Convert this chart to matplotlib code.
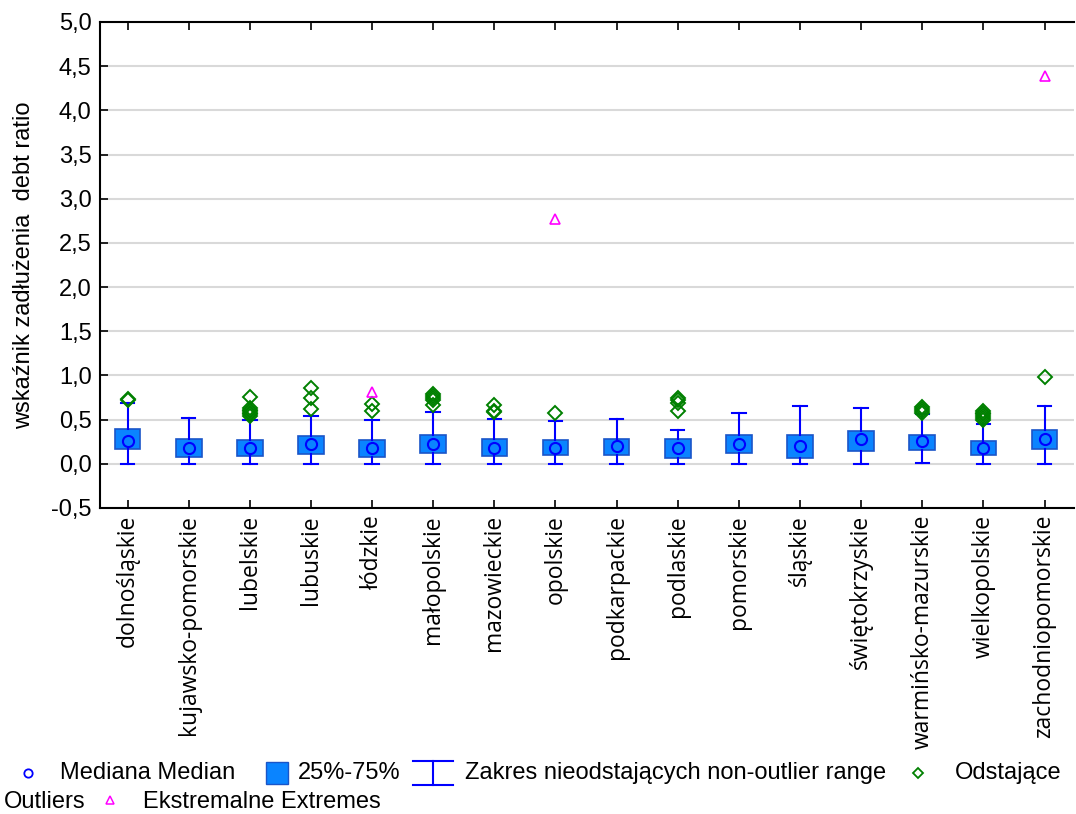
import matplotlib
matplotlib.use('Agg')
import matplotlib.pyplot as plt
from matplotlib.lines import Line2D
from matplotlib.patches import Rectangle

regions = ['dolnośląskie', 'kujawsko-pomorskie', 'lubelskie', 'lubuskie', 'łódzkie',
           'małopolskie', 'mazowieckie', 'opolskie', 'podkarpackie', 'podlaskie',
           'pomorskie', 'śląskie', 'świętokrzyskie', 'warmińsko-mazurskie',
           'wielkopolskie', 'zachodniopomorskie']

medians = [0.26, 0.18, 0.18, 0.22, 0.18, 0.22, 0.18, 0.18, 0.20, 0.18,
           0.22, 0.20, 0.28, 0.26, 0.18, 0.28]
q1 = [0.17, 0.08, 0.09, 0.11, 0.08, 0.12, 0.09, 0.10, 0.10, 0.06,
      0.12, 0.07, 0.14, 0.16, 0.10, 0.17]
q3 = [0.39, 0.28, 0.27, 0.31, 0.27, 0.33, 0.28, 0.27, 0.28, 0.28,
      0.32, 0.32, 0.37, 0.33, 0.26, 0.38]
whis_lo = [0.0, 0.0, 0.0, 0.0, 0.0, 0.0, 0.0, 0.0, 0.0, 0.0,
           0.0, 0.0, 0.0, 0.01, 0.0, 0.0]
whis_hi = [0.69, 0.52, 0.49, 0.545, 0.49, 0.59, 0.51, 0.48, 0.51, 0.38,
           0.57, 0.65, 0.63, 0.56, 0.45, 0.65]

outliers = [
    [0.72, 0.73],
    [],
    [0.76, 0.63, 0.61, 0.60, 0.58, 0.56, 0.54],
    [0.86, 0.74, 0.62],
    [0.68, 0.60],
    [0.79, 0.77, 0.74, 0.72, 0.66],
    [0.67, 0.60, 0.59],
    [0.57],
    [],
    [0.74, 0.72, 0.69, 0.60],
    [],
    [],
    [],
    [0.64, 0.62, 0.60, 0.58],
    [0.60, 0.58, 0.56, 0.54, 0.52, 0.50],
    [0.98],
]
extremes = [[], [], [], [], [0.81], [], [], [2.77], [], [], [], [], [], [], [], [4.39]]

legend_labels = ['Mediana Median', '25%-75%', 'Zakres nieodstających non-outlier range',
                 'Odstające', 'Outliers', 'Ekstremalne Extremes']

BOX_FACE = '#0a84ff'
BOX_EDGE = '#1a55c8'
BLUE = '#0000ff'
GREEN = '#008000'
MAGENTA = '#ff00ff'

W, H = 1076, 814
fig = plt.figure(figsize=(W / 100, H / 100), dpi=100)
ax = fig.add_axes([0.093, 0.376, 0.905, 0.597])

stats = []
for i in range(len(regions)):
    stats.append(dict(med=medians[i], q1=q1[i], q3=q3[i],
                      whislo=whis_lo[i], whishi=whis_hi[i], fliers=[]))

pos = list(range(1, len(regions) + 1))
ax.bxp(stats, positions=pos, widths=0.42, patch_artist=True, showfliers=False,
       boxprops=dict(facecolor=BOX_FACE, edgecolor=BOX_EDGE, linewidth=1.2),
       whiskerprops=dict(color=BLUE, linewidth=1.5),
       capprops=dict(color=BLUE, linewidth=1.5),
       medianprops=dict(linewidth=0), capwidths=0.22, zorder=3)

ax.plot(pos, medians, 'o', ls='none', mfc='none', mec=BLUE, mew=1.5, ms=8, zorder=4)

for i, vals in enumerate(outliers):
    ax.plot([pos[i]] * len(vals), vals, 'D', ls='none', mfc='none', mec=GREEN,
            mew=1.4, ms=7.5, zorder=4)
for i, vals in enumerate(extremes):
    ax.plot([pos[i]] * len(vals), vals, '^', ls='none', mfc='none', mec=MAGENTA,
            mew=1.2, ms=7.5, zorder=4)

ax.set_xlim(0.55, 16.48)
ax.set_ylim(-0.5, 5.0)
yt = [-0.5 + 0.5 * k for k in range(12)]
ax.set_yticks(yt)
ax.set_yticklabels([f'{v:.1f}'.replace('.', ',') for v in yt],
                   fontsize=17, family='Liberation Sans')
ax.set_xticks(pos)
ax.set_xticklabels(regions, rotation=90, fontsize=16.5, family='Open Sans')
ax.tick_params(axis='both', direction='in', length=6, width=1.2, top=True)
ax.tick_params(axis='y', pad=6)
ax.tick_params(axis='x', pad=5)
ax.grid(axis='y', color='#d9d9d9', linewidth=1.5, zorder=0)
ax.set_axisbelow(True)
ax.spines['right'].set_visible(False)
for s in ['left', 'bottom', 'top']:
    ax.spines[s].set_linewidth(1.5)
ax.set_ylabel('wskaźnik zadłużenia  debt ratio', fontsize=17, family='Liberation Sans',
              labelpad=12)


# legend drawn in pixel positions (figure space)
def fx(px):
    return px / W


def fy(py):
    return 1 - py / H


lfont = dict(family='Liberation Sans', size=17)
row1, row2 = 773, 802

fig.add_artist(Line2D([fx(28)], [fy(row1)], ls='none', marker='o', mfc='none',
                      mec=BLUE, ms=6, mew=1.3, transform=fig.transFigure))
fig.text(fx(60), fy(row1), legend_labels[0], ha='left', va='center', **lfont)

fig.add_artist(Rectangle((fx(266), fy(row1 + 11)), fx(22), 22 / H, facecolor=BOX_FACE,
                         edgecolor=BOX_EDGE, lw=1, transform=fig.transFigure))
fig.text(fx(298), fy(row1), legend_labels[1], ha='left', va='center', **lfont)

fig.add_artist(Line2D([fx(433), fx(433)], [fy(row1 - 12), fy(row1 + 12)], color=BLUE,
                      lw=1.5, transform=fig.transFigure))
for cy in (row1 - 12, row1 + 12):
    fig.add_artist(Line2D([fx(413), fx(453)], [fy(cy), fy(cy)], color=BLUE, lw=1.5,
                          transform=fig.transFigure))
fig.text(fx(465), fy(row1), legend_labels[2], ha='left', va='center', **lfont)

fig.add_artist(Line2D([fx(918)], [fy(row1)], ls='none', marker='D', mfc='none',
                      mec=GREEN, ms=5.5, mew=1.3, transform=fig.transFigure))
fig.text(fx(955), fy(row1), legend_labels[3], ha='left', va='center', **lfont)

fig.text(fx(4), fy(row2), legend_labels[4], ha='left', va='center', **lfont)
fig.add_artist(Line2D([fx(110)], [fy(row2 - 2)], ls='none', marker='^', mfc='none',
                      mec=MAGENTA, ms=6, mew=1.1, transform=fig.transFigure))
fig.text(fx(143), fy(row2), legend_labels[5], ha='left', va='center', **lfont)

fig.savefig('out.png', dpi=100)
